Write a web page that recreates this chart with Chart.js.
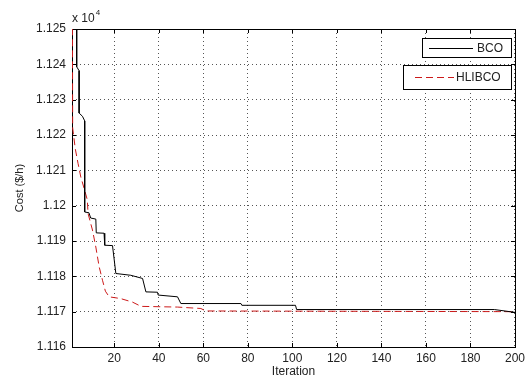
<!DOCTYPE html>
<html>
<head>
<meta charset="utf-8">
<script src="https://cdn.jsdelivr.net/npm/chart.js@4/dist/chart.umd.min.js"></script>
<style>
html,body{margin:0;padding:0;background:#fff;}
#wrap{width:529px;height:380px;position:relative;}
</style>
</head>
<body>
<div id="wrap"><canvas id="c" width="529" height="380"></canvas></div>
<script>
// Data (Cost in $/h)
const bcoIter = [3.1, 3.1, 4.2, 4.2, 5.7, 6.7, 6.7, 8.6, 9.4, 11.7, 11.9, 15.4, 15.7, 19.2, 20.7, 27.4, 32.7, 34.2, 39.4, 39.7, 48.4, 49.9, 76.9, 77.3, 101.4, 101.9, 190.7, 200];
const bcoCost = [11300, 11239.3, 11238.2, 11226.2, 11225.3, 11224.0, 11198.2, 11198.0, 11196.5, 11196.2, 11192.3, 11192.2, 11188.8, 11188.7, 11180.8, 11180.3, 11179.4, 11175.6, 11175.5, 11174.7, 11174.2, 11172.3, 11172.3, 11171.8, 11171.8, 11170.6, 11170.6, 11169.8];
const hlIter = [1, 1.3, 2.5, 3.7, 5.0, 6.4, 7.9, 8.2, 10.2, 11.7, 13.2, 14.7, 16.0, 17.7, 22.9, 28.2, 32.0, 48.4, 58.9, 61.0, 200];
const hlCost = [11300, 11222, 11216, 11212, 11208, 11205, 11201.6, 11197.8, 11193.1, 11188.3, 11182.7, 11178.9, 11175.8, 11174.2, 11173.7, 11172.7, 11171.5, 11171.3, 11170.9, 11170.2, 11170.0];
const xTicks = [20, 40, 60, 80, 100, 120, 140, 160, 180, 200];
const yTicks = [11160, 11170, 11180, 11190, 11200, 11210, 11220, 11230, 11240, 11250];
const seriesNames = ['BCO', 'HLIBCO'];

const FONT = 'Liberation Sans, Arial, Helvetica, sans-serif';
const TXT = '#222';
const RED = '#cc1a1a';

const framePlugin = {
  id: 'frame',
  beforeDatasetsDraw(chart) {
    const {ctx, chartArea: a, scales} = chart;
    ctx.save();
    ctx.strokeStyle = '#000';
    ctx.lineWidth = 1;
    ctx.setLineDash([]);
    ctx.beginPath();
    const L = 4;
    xTicks.forEach(v => {
      const x = Math.round(scales.x.getPixelForValue(v)) + 0.5;
      ctx.moveTo(x, a.bottom); ctx.lineTo(x, a.bottom - L);
      ctx.moveTo(x, a.top); ctx.lineTo(x, a.top + L);
    });
    yTicks.forEach(v => {
      const y = Math.round(scales.y.getPixelForValue(v)) + 0.5;
      ctx.moveTo(a.left, y); ctx.lineTo(a.left + L, y);
      ctx.moveTo(a.right, y); ctx.lineTo(a.right - L, y);
    });
    ctx.stroke();
    ctx.strokeRect(Math.round(a.left) + 0.5, Math.round(a.top) + 0.5, Math.round(a.right - a.left), Math.round(a.bottom - a.top));
    ctx.restore();
  },
  afterDatasetsDraw(chart) {
    const {ctx, chartArea: a} = chart;
    ctx.save();
    // exponent label
    ctx.fillStyle = TXT;
    ctx.textBaseline = 'alphabetic';
    ctx.textAlign = 'left';
    ctx.font = '12px ' + FONT;
    ctx.fillText('x 10', a.left, a.top - 7);
    const w = ctx.measureText('x 10').width;
    ctx.font = '8px ' + FONT;
    ctx.fillText('4', a.left + w + 1, a.top - 14);
    // legend boxes
    const items = [
      {label: chart.data.datasets[0].label, box: [422, 38, 89, 19], line: [429, 473, 48], dash: [], color: '#000', tx: 477, ty: 48},
      {label: chart.data.datasets[1].label, box: [403, 65, 108, 24], line: [415, 454, 77], dash: [7, 4], color: RED, tx: 456, ty: 77}
    ];
    items.forEach(it => {
      const [bx, by, bw, bh] = it.box;
      ctx.fillStyle = '#fff';
      ctx.fillRect(bx, by, bw, bh);
      ctx.strokeStyle = '#000';
      ctx.lineWidth = 1;
      ctx.setLineDash([]);
      ctx.strokeRect(bx + 0.5, by + 0.5, bw, bh);
      ctx.beginPath();
      ctx.strokeStyle = it.color;
      ctx.setLineDash(it.dash);
      ctx.moveTo(it.line[0], it.line[2] + 0.5);
      ctx.lineTo(it.line[1], it.line[2] + 0.5);
      ctx.stroke();
      ctx.setLineDash([]);
      ctx.fillStyle = TXT;
      ctx.font = '12px ' + FONT;
      ctx.textBaseline = 'middle';
      ctx.textAlign = 'left';
      ctx.fillText(it.label, it.tx, it.ty + 1);
    });
    ctx.restore();
  }
};

new Chart(document.getElementById('c'), {
  type: 'line',
  data: {
    datasets: [
      {
        label: seriesNames[0],
        data: bcoIter.map((x, i) => ({x: x, y: bcoCost[i]})),
        borderColor: '#000',
        borderWidth: 1,
        pointRadius: 0,
        tension: 0,
        fill: false
      },
      {
        label: seriesNames[1],
        data: hlIter.map((x, i) => ({x: x, y: hlCost[i]})),
        borderColor: RED,
        borderWidth: 1,
        borderDash: [7, 4],
        pointRadius: 0,
        tension: 0,
        fill: false
      }
    ]
  },
  options: {
    responsive: false,
    animation: false,
    devicePixelRatio: 1,
    layout: {padding: {left: 0, right: 14, top: 29, bottom: 0}},
    plugins: {legend: {display: false}, tooltip: {enabled: false}},
    scales: {
      x: {
        type: 'linear',
        min: 1,
        max: 200,
        afterBuildTicks: s => { s.ticks = xTicks.map(v => ({value: v})); },
        afterFit: s => { s.height = 33; },
        grid: {color: '#555', lineWidth: 1, drawTicks: false},
        border: {display: false, dash: [1, 3]},
        ticks: {color: TXT, font: {size: 12, family: FONT}, padding: 4, maxRotation: 0, autoSkip: false},
        title: {display: true, text: 'Iteration', color: TXT, font: {size: 12, family: FONT}, padding: {top: 0, bottom: 1}}
      },
      y: {
        type: 'linear',
        min: 11160,
        max: 11250,
        afterBuildTicks: s => { s.ticks = yTicks.map(v => ({value: v})); },
        afterFit: s => { s.width = 72; },
        grid: {color: '#555', lineWidth: 1, drawTicks: false},
        border: {display: false, dash: [1, 3]},
        ticks: {
          color: TXT, font: {size: 12, family: FONT}, padding: 6, autoSkip: false,
          callback: v => String(Number((v / 10000).toFixed(3)))
        },
        title: {display: true, text: 'Cost ($/h)', color: TXT, font: {size: 11, family: FONT}, padding: {top: 13, bottom: 0}}
      }
    }
  },
  plugins: [framePlugin]
});
</script>
</body>
</html>
